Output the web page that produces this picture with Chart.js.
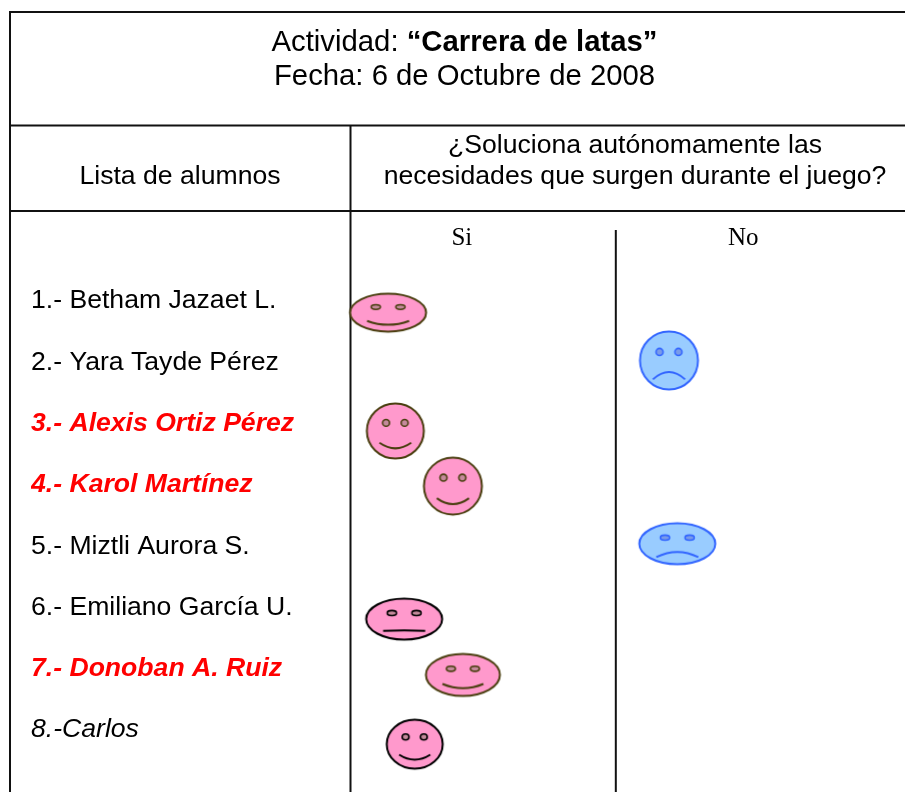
<!DOCTYPE html>
<html>
<head>
<meta charset="utf-8">
<title>Carrera de latas</title>
<style>
  html, body { margin: 0; padding: 0; background: #fff; overflow: hidden; }
  canvas { display: block; }
</style>
<script src="https://cdn.jsdelivr.net/npm/chart.js@4/dist/chart.umd.min.js"></script>
</head>
<body>
<canvas id="tabla" width="905" height="792"></canvas>
<script>
// data
const students = [
  "1.- Betham Jazaet L.", "2.- Yara Tayde Pérez", "3.- Alexis Ortiz Pérez", "4.- Karol Martínez",
  "5.- Miztli Aurora S.", "6.- Emiliano García U.", "7.- Donoban A. Ruiz", "8.-Carlos"
];
const studentRows = [1, 2, 3, 4, 5, 6, 7, 8];
const answerLabels = ["Si", "No"];
const answerTicks = [20, 70.8];     // % of the body width
const dividerTick = 47.8;
const faceColumn = [6.7, 57.4, 8, 18.4, 58.9, 9.6, 20.2, 11.5];
const faceRow = [1.19, 1.97, 3.12, 4.02, 4.96, 6.19, 7.1, 8.23];
const moods = ["happy", "sad", "happy", "happy", "sad", "neutral", "happy", "happy"];

const titleLine1 = ["Actividad: ", "“Carrera de latas”"];
const titleLine2 = "Fecha: 6 de Octubre de 2008";
const headerLeft = "Lista de alumnos";
const headerRight = ["¿Soluciona autónomamente las", "necesidades que surgen durante el juego?"];

// styles
const SANS = "'Liberation Sans', Arial, sans-serif";
const SERIF = "'Liberation Serif', 'Times New Roman', serif";
const faceW = [77, 59, 58, 59, 77, 77, 75, 57];
const faceH = [39, 59, 56, 58, 42, 42, 43, 50];
const faceInk = ["#4a3f10", "#3366ff", "#4a3f10", "#4a3f10", "#3366ff", "#000", "#4a3f10", "#000"];
const studentStyle = ["plain", "plain", "red", "red", "plain", "plain", "red", "italic"];

function makeFace(w, h, mood, ink) {
  const c = document.createElement("canvas");
  c.width = w + 4;
  c.height = h + 4;
  const g = c.getContext("2d");
  const cx = c.width / 2, cy = c.height / 2;
  const blue = ink === "#3366ff";

  g.lineWidth = 2;
  g.strokeStyle = ink;
  g.fillStyle = blue ? "#99ccff" : "#ff99cc";
  g.beginPath();
  g.ellipse(cx, cy, w / 2 - 0.5, h / 2 - 0.5, 0, 0, Math.PI * 2);
  g.fill();
  g.stroke();

  // eyes
  g.lineWidth = 1.6;
  g.fillStyle = blue ? "#7a9be8" : "#c58a9c";
  [-1, 1].forEach(function (s) {
    g.beginPath();
    g.ellipse(cx + s * 0.16 * w, cy - 0.145 * h, 0.06 * w, 0.06 * h, 0, 0, Math.PI * 2);
    g.fill();
    g.stroke();
  });

  // mouth
  let endY = 0.21, depth = 0.1;
  if (mood === "sad") { endY = 0.32; depth = -0.125; }
  if (mood === "neutral") { endY = 0.28; depth = -0.012; }
  g.lineWidth = 2;
  g.beginPath();
  g.moveTo(cx - 0.273 * w, cy + endY * h);
  g.quadraticCurveTo(cx, cy + (endY + 2 * depth) * h, cx + 0.273 * w, cy + endY * h);
  g.stroke();
  return c;
}

const faces = moods.map(function (m, i) { return makeFace(faceW[i], faceH[i], m, faceInk[i]); });

function line(ctx, x1, y1, x2, y2, width) {
  ctx.lineWidth = width;
  ctx.beginPath();
  ctx.moveTo(x1, y1);
  ctx.lineTo(x2, y2);
  ctx.stroke();
}

// the scales must fill the box exactly, no room kept for half a tick label
function noLabelPadding(s) {
  s.paddingLeft = 0;
  s.paddingRight = 0;
  s.paddingTop = 0;
  s.paddingBottom = 0;
}

const tableFrame = {
  id: "tableFrame",
  beforeDatasetsDraw(chart) {
    const ctx = chart.ctx;
    const W = chart.width, H = chart.height;
    const colX = chart.scales.x.left - 0.5;
    const midX = chart.scales.x.getPixelForValue(dividerTick);

    ctx.save();
    ctx.strokeStyle = "#111";
    line(ctx, 9, 12, W, 12, 2);
    line(ctx, 9, 125.5, W, 125.5, 2);
    line(ctx, 9, 211, W, 211, 2);
    line(ctx, 10, 12, 10, H, 2);
    line(ctx, colX, 125.5, colX, H, 2);
    line(ctx, midX, 230, midX, H, 2);

    ctx.fillStyle = "#000";
    ctx.textBaseline = "middle";

    // title line with the bold name in it
    const regular = "29.3px " + SANS, bold = "bold 29.3px " + SANS;
    ctx.font = regular;
    const w1 = ctx.measureText(titleLine1[0]).width;
    ctx.font = bold;
    const w2 = ctx.measureText(titleLine1[1]).width;
    const start = 464.5 - (w1 + w2) / 2;
    ctx.textAlign = "left";
    ctx.font = regular;
    ctx.fillText(titleLine1[0], start, 43);
    ctx.font = bold;
    ctx.fillText(titleLine1[1], start + w1, 43);

    ctx.font = regular;
    ctx.textAlign = "center";
    ctx.fillText(titleLine2, 464.5, 77);

    ctx.font = "26.6px " + SANS;
    ctx.fillText(headerLeft, 180, 177);
    ctx.fillText(headerRight[0], 635, 146);
    ctx.fillText(headerRight[1], 635, 177);
    ctx.restore();
  }
};

new Chart(document.getElementById("tabla"), {
  type: "scatter",
  data: {
    datasets: [{
      label: "Respuestas",
      data: faceColumn.map(function (x, i) { return { x: x, y: faceRow[i] }; }),
      pointStyle: function (c) { return faces[c.dataIndex]; },
      pointRadius: function (c) { return faceW[c.dataIndex] / 2; },
      clip: false
    }]
  },
  options: {
    responsive: false,
    animation: false,
    devicePixelRatio: 1,
    layout: { autoPadding: false, padding: { left: 31, top: 212, right: 0, bottom: 0 } },
    plugins: { legend: { display: false }, title: { display: false }, tooltip: { enabled: false } },
    scales: {
      x: {
        type: "linear",
        position: "top",
        min: 0,
        max: 100,
        afterBuildTicks: function (s) { s.ticks = answerTicks.map(function (v) { return { value: v }; }); },
        afterFit: function (s) { s.height = 42; noLabelPadding(s); },
        grid: { display: false, drawTicks: false },
        border: { display: false },
        ticks: {
          autoSkip: false,
          maxRotation: 0,
          padding: 1,
          color: "#000",
          font: { family: SERIF, size: 25 },
          callback: function (v, i) { return answerLabels[i]; }
        }
      },
      y: {
        type: "linear",
        reverse: true,
        min: 0.233,
        max: 9.011,
        afterBuildTicks: function (s) { s.ticks = studentRows.map(function (v) { return { value: v }; }); },
        afterFit: function (s) { s.width = 320; noLabelPadding(s); },
        grid: { display: false, drawTicks: false },
        border: { display: false },
        ticks: {
          autoSkip: false,
          crossAlign: "far",
          color: function (c) { return studentStyle[c.index] === "red" ? "#ff0000" : "#000"; },
          font: function (c) {
            const st = studentStyle[c.index];
            if (st === "red") return { family: SANS, size: 26.6, weight: "bold", style: "italic" };
            if (st === "italic") return { family: SANS, size: 26.6, style: "italic" };
            return { family: SANS, size: 26.6 };
          },
          callback: function (v, i) { return students[i]; }
        }
      }
    }
  },
  plugins: [tableFrame]
});
</script>
</body>
</html>
